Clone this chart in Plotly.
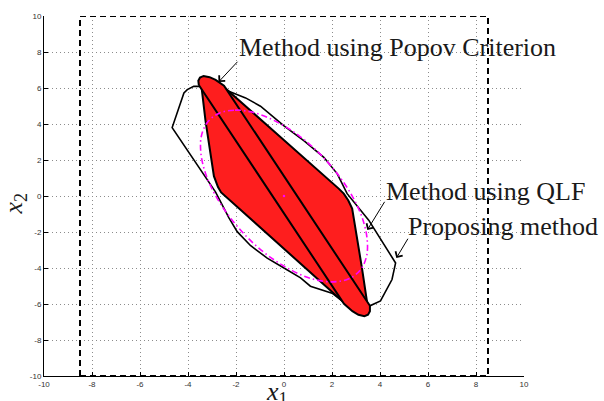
import plotly.graph_objects as go

# ---- data ----
tick_vals = [-10, -8, -6, -4, -2, 0, 2, 4, 6, 8, 10]
tick_text = ["-10", "-8", "-6", "-4", "-2", "0", "2", "4", "6", "8", "10"]

# state constraint box |x1| <= 8.5
bound_x = [-8.5, 8.5, 8.5, -8.5, -8.5]
bound_y = [-10, -10, 10, 10, -10]

# Proposing method (outer black polygon)
prop_x = [-3.55, -2.3, -1.6, -0.98, 0.0, 0.85, 1.66, 2.22, 2.63, 3.53, 4.65, 4.5, 4.02, 3.58,
          2.35, 2.0, 1.1, 0.69, 0.0, -0.70, -1.4, -1.95, -2.3, -2.65, -2.85, -4.66, -4.17,
          -4.03, -3.76, -3.55]
prop_y = [6.1, 5.82, 5.45, 4.99, 3.89, 3.05, 2.15, 1.23, 0.13, -1.34, -3.72, -4.64, -5.83, -6.1,
          -5.75, -5.4, -5.01, -4.55, -4.0, -3.45, -2.75, -1.98, -1.2, -0.24, 0.22, 3.80, 5.72,
          5.91, 6.09, 6.1]

# Popov criterion region: hexagon part
hex_x = [-3.45, -2.75, 2.28, 2.49, 2.68, 2.84, 3.26, 3.5, 2.75, -2.45, -2.62, -2.75, -2.92, -3.27, -3.45]
hex_y = [6.2, 6.35, 0.41, 0.13, -0.25, -0.7, -4.1, -6.25, -6.22, -0.03, 0.2, 0.5, 1.1, 4.17, 6.2]

# Popov criterion region: thin elongated part
thin_x = [-3.55, 2.5, 2.85, 3.1, 3.35, 3.5, 3.58, 3.58, -2.5, -2.85, -3.1, -3.35, -3.5, -3.57, -3.55]
thin_y = [6.17, -5.99, -6.4, -6.6, -6.68, -6.6, -6.4, -6.10, 6.13, 6.45, 6.6, 6.67, 6.58, 6.4, 6.17]

# QLF ellipse (magenta)
qlf_x = [-2.70, -2.04, -1.24, -0.36, 0.55, 1.42, 2.19, 2.82, 3.25, 3.46, 3.44, 3.18,
         2.70, 2.04, 1.24, 0.36, -0.55, -1.42, -2.19, -2.82, -3.25, -3.46, -3.44, -3.18, -2.70]
qlf_y = [4.60, 4.77, 4.63, 4.16, 3.42, 2.44, 1.29, 0.05, -1.18, -2.35, -3.35, -4.11,
         -4.60, -4.77, -4.63, -4.16, -3.42, -2.44, -1.29, -0.05, 1.18, 2.35, 3.35, 4.11, 4.60]

origin_x = [0]
origin_y = [0]

labels = ["Method using Popov Criterion", "Method using QLF", "Proposing method"]

RED = "#fe1e1e"

fig = go.Figure()
fig.add_trace(go.Scatter(x=bound_x, y=bound_y, mode="lines",
                         line=dict(color="black", width=2, dash="6px,4px"), hoverinfo="skip"))
fig.add_trace(go.Scatter(x=prop_x, y=prop_y, mode="lines",
                         line=dict(color="black", width=1.6), hoverinfo="skip"))
fig.add_trace(go.Scatter(x=hex_x, y=hex_y, mode="lines", fill="toself", fillcolor=RED,
                         line=dict(color="black", width=2), hoverinfo="skip"))
fig.add_trace(go.Scatter(x=thin_x, y=thin_y, mode="lines", fill="toself", fillcolor=RED,
                         line=dict(color="black", width=2), hoverinfo="skip"))
fig.add_trace(go.Scatter(x=qlf_x, y=qlf_y, mode="lines", line_shape="spline",
                         line=dict(color="#ff00ff", width=1.6, dash="6px,3px,1.5px,3px"), hoverinfo="skip"))
fig.add_trace(go.Scatter(x=origin_x, y=origin_y, mode="markers",
                         marker=dict(color="#ff00ff", size=2.5), hoverinfo="skip"))

axis_common = dict(range=[-10, 10], tickvals=tick_vals, ticktext=tick_text,
                   showgrid=True, gridcolor="#8c8c8c", griddash="1px,3px", gridwidth=1,
                   zeroline=False, showline=True, linecolor="black", linewidth=1,
                   ticks="inside", ticklen=4, tickcolor="black", mirror=False,
                   tickfont=dict(family="Liberation Sans", size=8, color="#333333"))

fig.update_layout(
    width=604, height=401,
    margin=dict(l=44, r=80, t=14, b=24),
    paper_bgcolor="white", plot_bgcolor="white",
    showlegend=False,
    xaxis=dict(**axis_common),
    yaxis=dict(**axis_common),
)

tfont = dict(family="Liberation Serif", size=26, color="#1a1a1a")
fig.add_annotation(x=-1.96, y=8.23, text=labels[0], showarrow=False, xanchor="left",
                   yanchor="middle", font=tfont)
fig.add_annotation(x=4.15, y=0.26, text=labels[1], showarrow=False, xanchor="left",
                   yanchor="middle", font=tfont)
fig.add_annotation(x=5.08, y=-1.67, text=labels[2], showarrow=False, xanchor="left",
                   yanchor="middle", font=tfont)

arrow = dict(showarrow=True, text="", axref="x", ayref="y", arrowhead=4, arrowsize=1.6,
             arrowwidth=1, arrowcolor="black")
fig.add_annotation(x=-2.73, y=6.33, ax=-1.88, ay=7.54, **arrow)
fig.add_annotation(x=3.47, y=-1.89, ax=4.23, ay=-0.24, **arrow)
fig.add_annotation(x=4.68, y=-3.45, ax=5.2, ay=-2.29, **arrow)

lfont = dict(family="Liberation Serif", size=26, color="#1a1a1a")
fig.add_annotation(x=-0.85, xanchor="left", yref="paper", y=-0.047, yanchor="middle",
                   text="<i>x</i><sub>1</sub>", showarrow=False, font=lfont)
fig.add_annotation(xref="paper", x=-0.060, xanchor="center", y=-0.41, yanchor="middle",
                   text="<i>x</i><sub>2</sub>", textangle=-90, showarrow=False, font=lfont)

fig.write_html("out.html", post_script="document.body.style.margin='0';",
               config={"displayModeBar": False})
